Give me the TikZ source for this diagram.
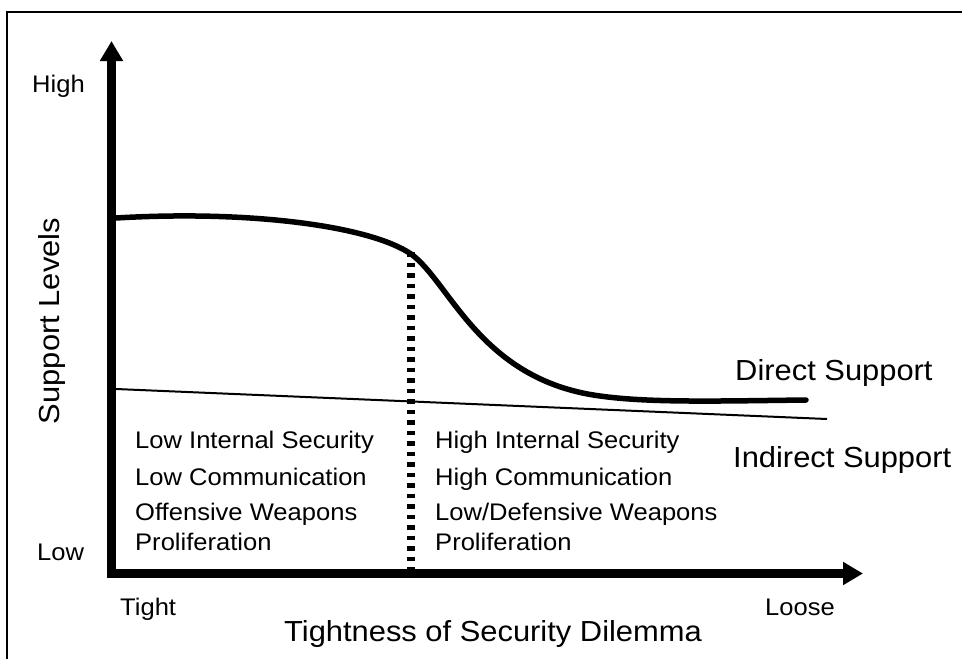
\documentclass[tikz,border=0pt]{standalone}
\usepackage{fontspec}
\setmainfont{Liberation Sans}[FakeStretch=1.065]
\usetikzlibrary{arrows.meta}
\tikzset{
  axis/.style={line width=8.5pt, line join=miter, {Triangle[length=20pt,width=22pt]}-{Triangle[length=20pt,width=22pt]}},
  frameline/.style={line width=2.5pt},
  direct/.style={line width=5.5pt, line cap=round},
  indirect/.style={line width=2pt},
  divider/.style={line width=8pt, dash pattern=on 4.5pt off 6pt},
  smalltext/.style={font=\fontsize{24}{29}\selectfont, inner sep=0pt},
  bigtext/.style={font=\fontsize{29}{34}\selectfont, inner sep=0pt},
  listtext/.style={font=\fontsize{24}{30}\selectfont, inner sep=0pt, anchor=base west}
}
\begin{document}
\begin{tikzpicture}[x=1pt,y=-1pt]
\useasboundingbox (0,0) rectangle (962,659);
% frame
\coordinate (fr) at (962,12);
\coordinate (fc) at (7,12);
\coordinate (fb) at (7,659);
\draw[frameline] (fr) -- (fc) -- (fb);
% axes
\coordinate (ytip) at (111.5,41);
\coordinate (origin) at (111.5,573.5);
\coordinate (xtip) at (863,573.5);
\draw[axis] (ytip) -- (origin) -- (xtip);
% indirect support line
\coordinate (i0) at (116,389);
\coordinate (i1) at (827,419);
\draw[indirect] (i0) -- (i1);
% direct support curve
\coordinate (d0) at (116,218);
\coordinate (d1) at (411,254);
\coordinate (d2) at (600,396);
\coordinate (d3) at (806,400);
\draw[direct] (d0) .. controls (250,210) and (370,226) .. (d1)
  .. controls (450,282) and (480,380) .. (d2)
  .. controls (650,403) and (720,401) .. (d3);
% divider
\coordinate (v0) at (411,252);
\coordinate (v1) at (411,570);
\draw[divider] (v0) -- (v1);
% axis labels
\node[smalltext, anchor=base west] (high) at (32,92) {High};
\node[smalltext, anchor=base west] (low) at (37,560) {Low};
\node[smalltext, anchor=base west] (tight) at (120,615) {Tight};
\node[smalltext, anchor=base east] (loose) at (835,615) {Loose};
\node[bigtext, anchor=base] (xtitle) at (493,641) {Tightness of Security Dilemma};
\node[bigtext, anchor=base, rotate=90] (ytitle) at (59,321) {Support Levels};
\node[bigtext, anchor=base west] (ds) at (735,380) {Direct Support};
\node[bigtext, anchor=base west] (is) at (733,467) {Indirect Support};
% lists
\node[listtext] (l1) at (135,448) {Low Internal Security};
\node[listtext] (l2) at (135,485) {Low Communication};
\node[listtext] (l3) at (135,520) {Offensive Weapons};
\node[listtext] (l4) at (135,550) {Proliferation};
\node[listtext] (r1) at (435,448) {High Internal Security};
\node[listtext] (r2) at (435,485) {High Communication};
\node[listtext] (r3) at (435,520) {Low/Defensive Weapons};
\node[listtext] (r4) at (435,550) {Proliferation};
\end{tikzpicture}
\end{document}
